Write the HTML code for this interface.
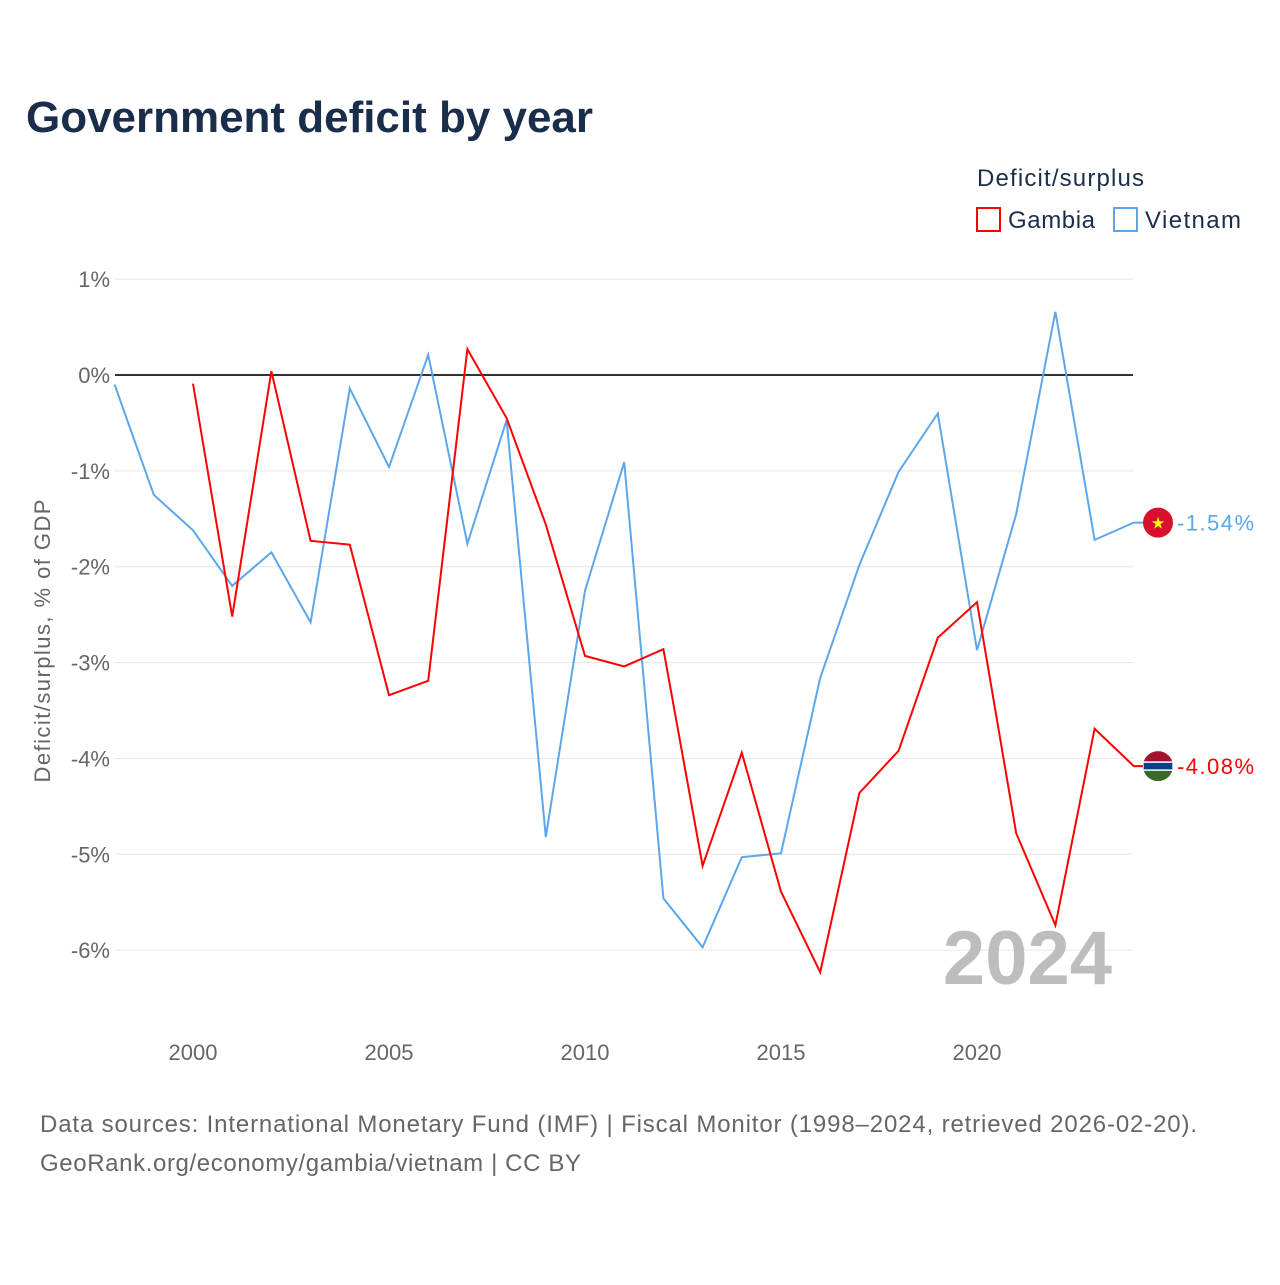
<!DOCTYPE html>
<html><head><meta charset="utf-8"><style>
body{margin:0;background:#fff;font-family:"Liberation Sans",sans-serif}
svg text{font-family:"Liberation Sans",sans-serif}
</style></head><body>
<svg id="chart" width="1280" height="1280" viewBox="0 0 1280 1280" xmlns="http://www.w3.org/2000/svg">
<rect width="1280" height="1280" fill="#fff"/>
<text x="26" y="132" font-size="44" font-weight="bold" fill="#1a2e4c" textLength="567">Government deficit by year</text>
<text x="977" y="186" font-size="24" fill="#1a2e4c" textLength="167">Deficit/surplus</text>
<g><rect x="977" y="208" width="23" height="23" fill="none" stroke="#f00" stroke-width="2"/><text x="1008" y="228" font-size="24" fill="#1a2e4c" textLength="87">Gambia</text></g>
<g><rect x="1114" y="208" width="23" height="23" fill="none" stroke="#5ba7ea" stroke-width="2"/><text x="1145" y="228" font-size="24" fill="#1a2e4c" textLength="96">Vietnam</text></g>
<g id="grid"></g>
<g id="xaxis"></g>
<text transform="translate(50,641) rotate(-90)" text-anchor="middle" font-size="22" fill="#666" textLength="283">Deficit/surplus, % of GDP</text>
<text x="1112" y="984" text-anchor="end" font-size="76" font-weight="bold" fill="#bdbdbd">2024</text>
<g id="series"></g>
<text x="40" y="1132" font-size="24" fill="#666" textLength="1157">Data sources: International Monetary Fund (IMF) | Fiscal Monitor (1998–2024, retrieved 2026-02-20).</text>
<text x="40" y="1171" font-size="24" fill="#666" textLength="541">GeoRank.org/economy/gambia/vietnam | CC BY</text>
</svg>
<script>
const years=[1998,1999,2000,2001,2002,2003,2004,2005,2006,2007,2008,2009,2010,2011,2012,2013,2014,2015,2016,2017,2018,2019,2020,2021,2022,2023,2024];
const vietnam=[-0.10,-1.25,-1.62,-2.20,-1.85,-2.58,-0.14,-0.96,0.21,-1.76,-0.47,-4.82,-2.25,-0.91,-5.46,-5.97,-5.03,-4.99,-3.16,-1.98,-1.01,-0.40,-2.87,-1.45,0.66,-1.72,-1.54];
const gambia=[null,null,-0.09,-2.52,0.04,-1.73,-1.77,-3.34,-3.19,0.27,-0.45,-1.56,-2.93,-3.04,-2.86,-5.12,-3.94,-5.39,-6.23,-4.36,-3.92,-2.74,-2.37,-4.78,-5.74,-3.69,-4.08];
const yTicks=[1,0,-1,-2,-3,-4,-5,-6];
const xTicks=[2000,2005,2010,2015,2020];
const NS="http://www.w3.org/2000/svg";
const X=y=>193+(y-2000)*39.2;
const Y=v=>375-v*95.86;
function mk(tag,attrs,parent){const e=document.createElementNS(NS,tag);for(const k in attrs)e.setAttribute(k,attrs[k]);parent.appendChild(e);return e;}
const grid=document.getElementById('grid');
yTicks.forEach(t=>{
 const l=mk('line',{x1:115,x2:1133,y1:Y(t),y2:Y(t),stroke:t===0?'#333':'#e6e6e6','stroke-width':t===0?2:1},grid);
 
 
 const tx=mk('text',{x:110,y:Y(t)+8,'text-anchor':'end','font-size':22,fill:'#666'},grid);
 tx.textContent=t+'%';
 
 
});
const xa=document.getElementById('xaxis');
xTicks.forEach(t=>{
 const tx=mk('text',{x:X(t),y:1060,'text-anchor':'middle','font-size':22,fill:'#666'},xa);
 tx.textContent=t;
 
 
});
const sg=document.getElementById('series');
function draw(vals,color,name){
 let d='';vals.forEach((v,i)=>{if(v===null)return;d+=(d?'L':'M')+X(years[i])+','+Y(v);});
 const last=vals[vals.length-1];
 d+='L'+(X(years[years.length-1])+24)+','+Y(last);
 const p=mk('path',{d:d,fill:'none',stroke:color,'stroke-width':2},sg);
 
 
 return last;
}
const lv=draw(vietnam,'#5ba7ea','vietnam');
const lg=draw(gambia,'#f00','gambia');
const cx=1158;
const fv=mk('g',{},sg);


mk('circle',{cx:cx,cy:Y(lv),r:15,fill:'#d8102e'},fv);
const st=mk('text',{x:cx,y:Y(lv)+6,'text-anchor':'middle','font-size':16,fill:'#ff0'},fv);st.textContent='★';
const fg=mk('g',{},sg);


const gy=Y(lg);
const cpp=mk('clipPath',{id:'gc'},fg);
mk('circle',{cx:cx,cy:gy,r:15},cpp);
const gg=mk('g',{'clip-path':'url(#gc)'},fg);
mk('rect',{x:cx-15,y:gy-15,width:30,height:11,fill:'#a51131'},gg);
mk('rect',{x:cx-15,y:gy-4,width:30,height:8,fill:'#0c3c8c',stroke:'#fff','stroke-width':1.5},gg);
mk('rect',{x:cx-15,y:gy+4.75,width:30,height:11,fill:'#3a6a28'},gg);
const tv=mk('text',{x:1177,y:Y(lv)+8,'font-size':22,fill:'#5ba7ea',textLength:77},sg);tv.textContent=lv.toFixed(2)+'%';


const tg=mk('text',{x:1177,y:gy+8,'font-size':22,fill:'#f00',textLength:77},sg);tg.textContent=lg.toFixed(2)+'%';


</script>
</body></html>
